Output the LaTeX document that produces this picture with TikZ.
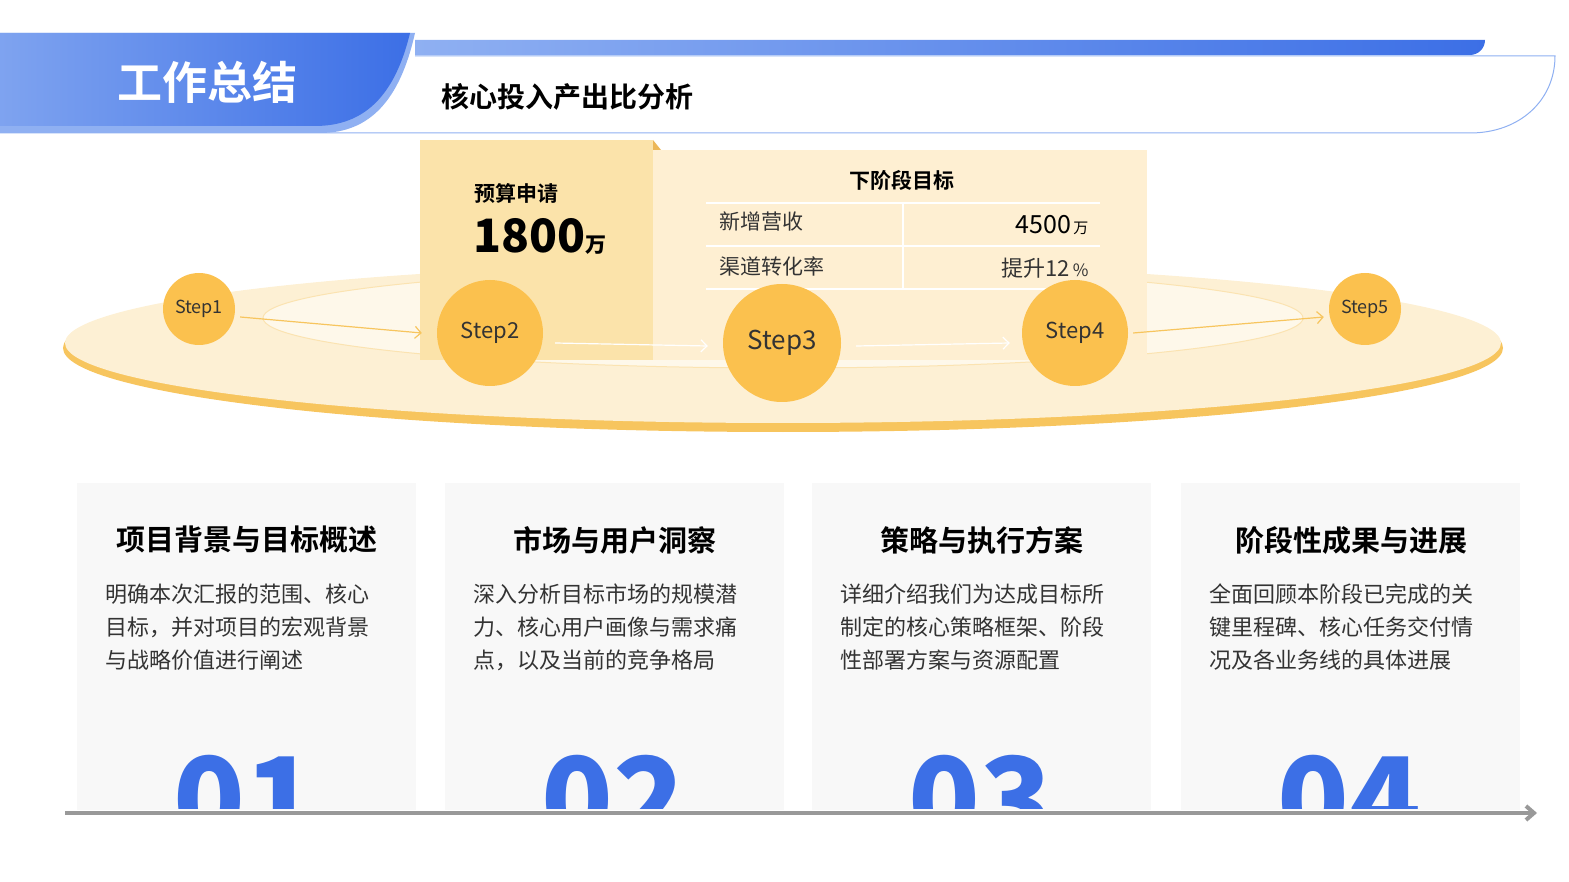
\documentclass[tikz,border=0pt]{standalone}
\usepackage{fontspec}
\setmainfont{Noto Sans CJK SC}
\newfontfamily\cjkb{Noto Sans CJK SC Bold}
\newfontfamily\cjkh{Noto Sans CJK SC Black}
\usetikzlibrary{arrows.meta}
\definecolor{blueA}{HTML}{3C6FE6}
\definecolor{blueL}{HTML}{8FB0F2}
\definecolor{goldC}{HTML}{FBC14E}
\definecolor{boxA}{HTML}{FBE3AA}
\definecolor{boxB}{HTML}{FEEFD2}
\definecolor{ringY}{HTML}{FDF0D4}
\definecolor{rimO}{HTML}{F7C55E}
\definecolor{cardG}{HTML}{F8F8F8}
\definecolor{txt}{HTML}{333333}
\tikzset{
 stepc/.style={circle,fill=goldC,text=txt,font=\fontsize{20}{20}\selectfont,inner sep=0pt},
 cardt/.style={font=\cjkb\fontsize{29}{29}\selectfont,text=black,anchor=center},
 cardb/.style={font=\fontsize{22}{33}\selectfont,text=txt,anchor=north west,align=left},
 bignum/.style={font=\cjkh\fontsize{118}{118}\selectfont,text=blueA,anchor=north},
 flow/.style={-{Straight Barb[length=6pt]},line width=1.2pt}
}
\begin{document}
\begin{tikzpicture}[x=1pt,y=-1pt]
\useasboundingbox (0,0) rectangle (1569,882);
% header
\shade[left color=blueL,right color=blueA] (415,40) -- (1485,40) to[out=-90,in=0] (1470,55) -- (415,55) -- cycle;
\draw[blueL,line width=1pt,fill=white] (415,56) -- (1555,56) .. controls (1555,100) and (1520,133) .. (1470,133) -- (0,133);
\fill[blueL] (0,33) -- (415,33) .. controls (400,100) and (370,133) .. (320,133) -- (0,133) -- cycle;
\shade[left color=blueL!80!blueA,right color=blueA] (0,33) -- (410,33) .. controls (395,95) and (365,126) .. (315,126) -- (0,126) -- cycle;
\node[font=\cjkb\fontsize{45}{45}\selectfont,text=white] (hdr) at (207,82) {工作总结};
\node[font=\cjkb\fontsize{28}{28}\selectfont,text=black,anchor=west] (sub) at (438,97) {核心投入产出比分析};
% platform
\fill[rimO] (783,348) ellipse[x radius=720,y radius=84];
\fill[ringY] (783,343) ellipse[x radius=718,y radius=80];
\fill[white!50!ringY] (783,318) ellipse[x radius=520,y radius=50];
\draw[ringY!70!rimO,line width=1pt] (783,318) ellipse[x radius=520,y radius=50];
% boxes
\fill[boxB] (653,150) rectangle (1147,360);
\fill[boxA] (420,140) rectangle (653,360);
\fill[rimO!80!brown] (653,140) -- (661,150) -- (653,150) -- cycle;
\node[font=\cjkb\fontsize{21}{21}\selectfont,anchor=west] (bt) at (471,193) {预算申请};
\node[font=\fontsize{46}{46}\selectfont\bfseries,anchor=west,text=black] (bv) at (470,236) {1800\fontsize{21}{21}\selectfont 万};
\node[font=\cjkb\fontsize{21}{21}\selectfont] (gt) at (902,180) {下阶段目标};
\draw[white,line width=1.2pt] (706,203) -- (1100,203) (706,246) -- (1100,246) (706,289) -- (1100,289) (903,203) -- (903,289);
\node[font=\fontsize{21}{21}\selectfont,anchor=west,text=txt] (r1) at (716,222) {新增营收};
\node[font=\fontsize{21}{21}\selectfont,anchor=west,text=txt] (r2) at (716,266) {渠道转化率};
\node[font=\fontsize{25}{25}\selectfont,anchor=east,text=black] (v1) at (1092,225) {4500\fontsize{15}{15}\selectfont\,万};
\node[font=\fontsize{22}{22}\selectfont,anchor=east,text=txt] (v2) at (1092,268) {提升12\fontsize{17}{17}\selectfont\,\%};
% steps
\node[stepc,minimum size=72pt,font=\fontsize{18}{18}\selectfont] (s1) at (199,309) {Step1};
\node[stepc,minimum size=106pt,font=\fontsize{22}{22}\selectfont] (s2) at (490,333) {Step2};
\node[stepc,minimum size=118pt,font=\fontsize{26}{26}\selectfont] (s3) at (782,343) {Step3};
\node[stepc,minimum size=106pt,font=\fontsize{22}{22}\selectfont] (s4) at (1075,333) {Step4};
\node[stepc,minimum size=72pt,font=\fontsize{18}{18}\selectfont] (s5) at (1365,309) {Step5};
\draw[flow,rimO] (s1.east)+(5,8) -- ([shift={(-15,0)}]s2.west);
\draw[flow,white] ([shift={(12,10)}]s2.east) -- ([shift={(-15,3)}]s3.west);
\draw[flow,white] ([shift={(15,3)}]s3.east) -- ([shift={(-12,10)}]s4.west);
\draw[flow,rimO] ([shift={(5,0)}]s4.east) -- ([shift={(-5,8)}]s5.west);
% cards
\foreach \x/\t/\a/\b/\c/\n in {77/项目背景与目标概述/明确本次汇报的范围、核心/目标，并对项目的宏观背景/与战略价值进行阐述/01,
 445/市场与用户洞察/深入分析目标市场的规模潜/力、核心用户画像与需求痛/点，以及当前的竞争格局/02,
 812/策略与执行方案/详细介绍我们为达成目标所/制定的核心策略框架、阶段/性部署方案与资源配置/03,
 1181/阶段性成果与进展/全面回顾本阶段已完成的关/键里程碑、核心任务交付情/况及各业务线的具体进展/04}{
 \fill[cardG] (\x,483) rectangle ++(339,327);
 \node[cardt] (t\n) at (\x+170,540) {\t};
 \node[cardb] (b\n) at (\x+25,580) {\a\\\b\\\c};
 \begin{scope}
 \clip (\x,700) rectangle ++(339,108);
 \node[bignum] (n\n) at (\x+168,752) {\n};
 \end{scope}
}
\coordinate (ax0) at (65,813);
\coordinate (ax1) at (1537,813);
\draw[gray!80,line width=4pt,-{Straight Barb[length=8pt,width=14pt]}] (ax0) -- (ax1);
\end{tikzpicture}
\end{document}
